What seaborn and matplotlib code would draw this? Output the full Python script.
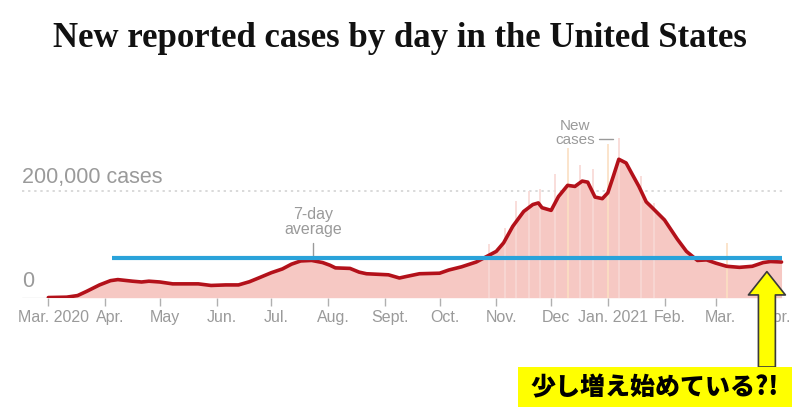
import matplotlib
matplotlib.use("Agg")
import matplotlib.pyplot as plt
import matplotlib.dates as mdates
from matplotlib.patches import Rectangle
from matplotlib.transforms import ScaledTranslation
import pandas as pd
import seaborn as sns

# 7-day average of new cases (thousands)
avg_dates = ['2020-03-01', '2020-03-11', '2020-03-17', '2020-03-22', '2020-03-29',
             '2020-04-04', '2020-04-08', '2020-04-16', '2020-04-21', '2020-04-25',
             '2020-05-01', '2020-05-08', '2020-05-15', '2020-05-22', '2020-05-29',
             '2020-06-06', '2020-06-13', '2020-06-19', '2020-06-24', '2020-07-01',
             '2020-07-07', '2020-07-12', '2020-07-17', '2020-07-23', '2020-07-29',
             '2020-08-02', '2020-08-05', '2020-08-13', '2020-08-18', '2020-08-22',
             '2020-09-03', '2020-09-09', '2020-09-13', '2020-09-20', '2020-10-01',
             '2020-10-06', '2020-10-13', '2020-10-21', '2020-10-26', '2020-11-01',
             '2020-11-05', '2020-11-10', '2020-11-16', '2020-11-21', '2020-11-24',
             '2020-11-26', '2020-12-01', '2020-12-05', '2020-12-10', '2020-12-14',
             '2020-12-18', '2020-12-21', '2020-12-25', '2020-12-29', '2021-01-01',
             '2021-01-04', '2021-01-07', '2021-01-11', '2021-01-14', '2021-01-18',
             '2021-01-22', '2021-01-25', '2021-02-01', '2021-02-08', '2021-02-13',
             '2021-02-19', '2021-02-24', '2021-03-01', '2021-03-07', '2021-03-14',
             '2021-03-21', '2021-03-27', '2021-03-31', '2021-04-06']
avg_cases_k = [0.3, 1, 4, 12, 24,
               32, 34, 31, 29.5, 31,
               29.5, 26, 26, 26, 23,
               24, 24, 30, 37, 47,
               54, 63, 69, 70, 66,
               61, 56, 55, 48, 45,
               43, 37, 40, 45, 46,
               52, 58, 67, 76, 87,
               103, 134, 162, 175, 178,
               169, 164, 190, 211, 209,
               219, 217, 189, 186, 197,
               228, 260, 253, 234, 209,
               180, 170, 146, 110, 87,
               70, 71, 65, 59, 57,
               59, 66, 68, 67]

# single days that stick out above the average
spike_dates = ['2020-10-28', '2020-11-06', '2020-11-12', '2020-11-19', '2020-11-25',
               '2020-12-03', '2020-12-17', '2020-12-24', '2021-01-07', '2021-01-19',
               '2021-01-26']
spike_cases_k = [100, 130, 181, 200, 205, 233, 250, 241, 300, 228, 178]

# days shown in the lighter orange tone
flag_dates = ['2020-12-10', '2021-01-01', '2021-03-07']
flag_cases_k = [281, 288, 103]

month_ticks = ['2020-03-01', '2020-04-01', '2020-05-01', '2020-06-01', '2020-07-01',
               '2020-08-01', '2020-09-01', '2020-10-01', '2020-11-01', '2020-12-01',
               '2021-01-01', '2021-02-01', '2021-03-01', '2021-04-01']
month_labels = ['Mar. 2020', 'Apr.', 'May', 'Jun.', 'Jul.', 'Aug.', 'Sept.', 'Oct.',
                'Nov.', 'Dec', 'Jan. 2021', 'Feb.', 'Mar.', 'Apr.']

threshold = 75000
threshold_start = '2020-04-05'
threshold_end = '2021-04-06'

sns.set_theme(style="white")
plt.rcParams['font.family'] = ['Liberation Sans', 'DejaVu Sans']

df = pd.DataFrame({'date': pd.to_datetime(avg_dates),
                   'cases': [v * 1000 for v in avg_cases_k]})

fig = plt.figure(figsize=(8, 4.18), dpi=100)
ax = fig.add_axes([22 / 800, 120.3 / 418, 763 / 800, 197.7 / 418])

base = mdates.date2num(pd.Timestamp('2020-03-01'))
ax.set_xlim(base - 14.4, base + 402.9)
ax.set_ylim(0, 371300)

# daily bars (approximated by the area under the average, plus standout days)
ax.fill_between(df['date'], 0, df['cases'], color='#f6c8c3', lw=0, zorder=1)
ax.vlines(pd.to_datetime(spike_dates), 0, [v * 1000 for v in spike_cases_k],
          color='#f8d8d4', lw=1.2, zorder=1)
ax.vlines(pd.to_datetime(flag_dates), 0, [v * 1000 for v in flag_cases_k],
          color='#fbdfc2', lw=1.2, zorder=1)

ax.axhline(200000, color='#cfcfcf', ls=(0, (1.5, 2.5)), lw=1.1, zorder=0.5)
ax.axhline(0, color='#dddddd', lw=1, zorder=0.5)

sns.lineplot(data=df, x='date', y='cases', ax=ax, color='#b3111a', lw=2.6, zorder=3)

ax.plot(pd.to_datetime([threshold_start, threshold_end]), [threshold, threshold],
        color='#2aa3da', lw=3, solid_capstyle='butt', zorder=4)

# axes styling
ax.set_xlabel('')
ax.set_ylabel('')
ax.set_yticks([])
for s in ax.spines.values():
    s.set_visible(False)
ax.set_xticks(pd.to_datetime(month_ticks))
ax.set_xticklabels(month_labels)
ax.tick_params(axis='x', bottom=True, length=6, width=1, color='#b0b0b0',
               labelcolor='#9a9a9a', labelsize=11.5, pad=3)
for lab in ax.get_xticklabels():
    lab.set_transform(lab.get_transform() + ScaledTranslation(5 / 100, 0, fig.dpi_scale_trans))

gray = '#9a9a9a'
ax.text(0, 214800, '200,000 cases', transform=ax.get_yaxis_transform(),
        fontsize=15.5, color=gray, va='baseline', ha='left')
ax.text(0, 20000, '0', transform=ax.get_yaxis_transform(),
        fontsize=15.5, color=gray, va='baseline', ha='left')

# annotations
ax.text(pd.Timestamp('2020-07-24'), 114000, '7-day\naverage', ha='center', va='bottom',
        fontsize=11.5, color=gray, linespacing=1.0)
ax.plot(pd.to_datetime(['2020-07-24', '2020-07-24']), [76000, 102000],
        color=gray, lw=1, zorder=2)
ax.text(pd.Timestamp('2020-12-14'), 283000, 'New\ncases', ha='center', va='bottom',
        fontsize=11, color=gray, linespacing=1.0)
ax.plot(pd.to_datetime(['2020-12-27', '2021-01-04']), [297500, 297500],
        color=gray, lw=1, clip_on=False)

fig.text(0.5, 371.3 / 418, 'New reported cases by day in the United States',
         ha='center', va='baseline', fontfamily='Liberation Serif',
         fontweight='bold', fontsize=25, color='#111111')

# yellow callout
fig.add_artist(Rectangle((518 / 800, 11 / 418), 274 / 800, 40 / 418,
                         transform=fig.transFigure, fc='#ffff00', ec='none', zorder=5))
fig.text(655 / 800, 31 / 418, '少し増え始めている?!', ha='center', va='center',
         fontfamily=['Noto Sans CJK JP', 'DejaVu Sans'], fontweight='heavy',
         fontsize=18, color='black', zorder=6)

tip = mdates.date2num(pd.Timestamp('2021-03-29'))
ax.annotate('', xy=(tip, 49000), xycoords='data',
            xytext=(tip, 51 / 418), textcoords=('data', 'figure fraction'),
            arrowprops=dict(arrowstyle='simple,head_length=1.68,head_width=2.66,tail_width=1.22',
                            mutation_scale=10, fc='#ffff00', ec='#3a3a3a', lw=1.2,
                            shrinkA=0, shrinkB=0),
            annotation_clip=False, zorder=7)

fig.savefig('out.png', dpi=100)
